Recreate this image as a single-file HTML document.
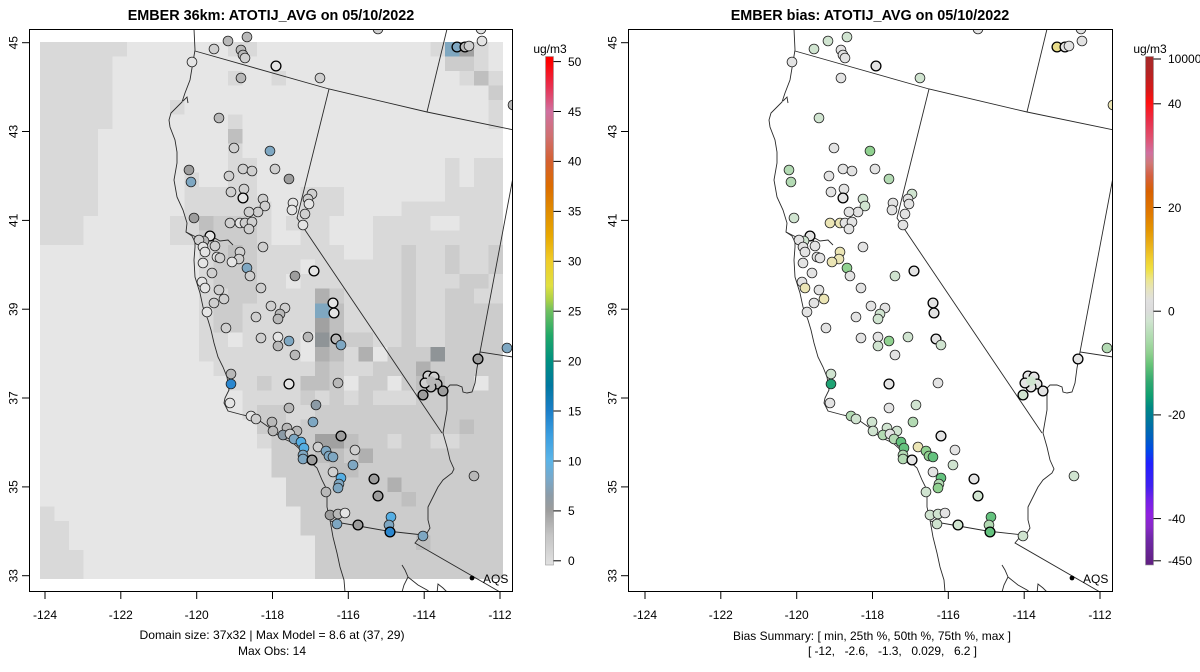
<!DOCTYPE html>
<html><head><meta charset="utf-8">
<style>
html,body{margin:0;padding:0;background:#fff;}
svg{display:block;font-family:"Liberation Sans",Arial,sans-serif;}
.grid rect{shape-rendering:crispEdges}
.gb{fill:#d9d9d9}.gc{fill:#cccccc}.gd{fill:#bfbfbf}.ge{fill:#b0b0b0}.gf{fill:#a1a1a1}.gg{fill:#8f9497}.gB{fill:#7fa7c0}
.ol path{fill:none;stroke:#2a2a2a;stroke-width:0.9}
.dots circle{stroke:#222;stroke-width:0.8}
.dots circle.T{stroke:#000;stroke-width:1.3}
.dW{fill:#e4e4e4}.dL{fill:#cfcfcf}.dM{fill:#b8b8b8}.dD{fill:#9d9d9d}.dG{fill:#8c9ba6}.dS{fill:#7ea7c2}.dU{fill:#55aee3}.dV{fill:#2b87cf}
.rw{fill:#e3e3e3}.rp{fill:#d0e4d0}.rq{fill:#b3dab3}.rr{fill:#90d190}.rs{fill:#64c27e}.rt{fill:#1fa374}.ry{fill:#ebe5b5}.rY{fill:#e8dc8a}
.tk{stroke:#000;stroke-width:1}
</style></head>
<body>
<svg width="1200" height="672" viewBox="0 0 1200 672" xmlns="http://www.w3.org/2000/svg">
<defs>
<clipPath id="clipL" clipPathUnits="userSpaceOnUse"><rect x="29" y="29" width="484" height="563"/></clipPath>
<linearGradient id="cbL" x1="0" y1="0" x2="0" y2="1">
<stop offset="0" stop-color="#ff0000"/>
<stop offset="0.0104" stop-color="#ff0000"/>
<stop offset="0.059" stop-color="#e83050"/>
<stop offset="0.108" stop-color="#d070a0"/>
<stop offset="0.157" stop-color="#d07070"/>
<stop offset="0.206" stop-color="#d46030"/>
<stop offset="0.255" stop-color="#dc6c00"/>
<stop offset="0.304" stop-color="#e08c00"/>
<stop offset="0.353" stop-color="#e8a800"/>
<stop offset="0.402" stop-color="#f0cc28"/>
<stop offset="0.451" stop-color="#e0e040"/>
<stop offset="0.48" stop-color="#a8d048"/>
<stop offset="0.50" stop-color="#70c060"/>
<stop offset="0.549" stop-color="#20a868"/>
<stop offset="0.598" stop-color="#009080"/>
<stop offset="0.647" stop-color="#0078a0"/>
<stop offset="0.696" stop-color="#1a7ec8"/>
<stop offset="0.745" stop-color="#3a9ee0"/>
<stop offset="0.794" stop-color="#5ab4e8"/>
<stop offset="0.833" stop-color="#7aa8c8"/>
<stop offset="0.863" stop-color="#8c9ca8"/>
<stop offset="0.892" stop-color="#9c9c9c"/>
<stop offset="0.941" stop-color="#c4c4c4"/>
<stop offset="0.99" stop-color="#dcdcdc"/>
<stop offset="1" stop-color="#e0e0e0"/>
</linearGradient>
<linearGradient id="cbR" x1="0" y1="0" x2="0" y2="1">
<stop offset="0" stop-color="#a52a2a"/>
<stop offset="0.031" stop-color="#b42424"/>
<stop offset="0.066" stop-color="#d81818"/>
<stop offset="0.09" stop-color="#ff1010"/>
<stop offset="0.128" stop-color="#e8304c"/>
<stop offset="0.16" stop-color="#e05070"/>
<stop offset="0.19" stop-color="#d070a0"/>
<stop offset="0.21" stop-color="#d07878"/>
<stop offset="0.235" stop-color="#d46040"/>
<stop offset="0.265" stop-color="#d86000"/>
<stop offset="0.307" stop-color="#e07800"/>
<stop offset="0.34" stop-color="#e49400"/>
<stop offset="0.37" stop-color="#eab018"/>
<stop offset="0.40" stop-color="#f0d030"/>
<stop offset="0.418" stop-color="#f0e040"/>
<stop offset="0.44" stop-color="#ece690"/>
<stop offset="0.459" stop-color="#e6e4c0"/>
<stop offset="0.48" stop-color="#e0e0e0"/>
<stop offset="0.5" stop-color="#dcdcdc"/>
<stop offset="0.52" stop-color="#d0e4d0"/>
<stop offset="0.56" stop-color="#a8daa8"/>
<stop offset="0.583" stop-color="#90d090"/>
<stop offset="0.605" stop-color="#68c478"/>
<stop offset="0.64" stop-color="#30a870"/>
<stop offset="0.666" stop-color="#10a070"/>
<stop offset="0.69" stop-color="#008884"/>
<stop offset="0.72" stop-color="#0074a0"/>
<stop offset="0.749" stop-color="#0060c0"/>
<stop offset="0.775" stop-color="#0048e8"/>
<stop offset="0.80" stop-color="#2020ff"/>
<stop offset="0.845" stop-color="#4020f0"/>
<stop offset="0.87" stop-color="#7020e8"/>
<stop offset="0.9" stop-color="#9020e0"/>
<stop offset="0.925" stop-color="#8828c8"/>
<stop offset="0.948" stop-color="#7028a8"/>
<stop offset="1" stop-color="#602080"/>
</linearGradient>
<g id="ol" class="ol">
<path d="M194,29 L195,50 L193,62 L190,80 L185,93 L182,102 L177,107 L171,113 L169,120 L170,127 L175,140 L177,152 L177,163 L174,180 L177,197 L183,210 L187,223 L186,232 L192,236 L195,242 L195,247 L194,260 L195,277 L200,293 L203,307 L208,320 L211,330 L214,343 L218,357 L223,367 L227,377 L229,390 L225,398 L224,403 L228,411 L243,415 L252,417 L260,421 L270,428 L280,437 L293,443 L303,452 L308,460 L317,468 L322,480 L327,490 L327,507 L330,520 L333,537 L337,553 L340,567 L344,580 L345,592"/>
<path d="M186,232 L196,237 L205,239 L213,237 L220,241 L228,240 L233,245 M196,237 L197,243 L204,250 L210,252 M213,237 L214,244 L220,247 M183,101 L187,97 L188,103"/>
<path d="M195,51 L329,89 L427,112 L514,130"/>
<path d="M329,89 L297,218 L303,227 L442,433"/>
<path d="M427,112 L447,29"/>
<path d="M514,172 L480,352 L513,357"/>
<path d="M480,352 L477,368 L475,383 L472,392 L467,393 L463,392 L462,387 L457,385 L450,385 L447,388 L447,410 L443,433 L447,447 L450,460 L454,469 L452,473 L443,480 L438,487 L433,497 L428,507 L428,520 L430,528 L427,533 L420,537 L415,543 L500,592"/>
<path d="M330,521 L387,531 L423,535"/>
<path d="M402,565 L405,570 L408,577 L404,585 L402,592 M408,577 L418,585 L427,590 L431,593 M437,593 L438,584 L443,588 L447,592"/>
</g>
</defs>

<!-- Titles -->
<text x="271" y="20" text-anchor="middle" font-size="14.4" font-weight="bold">EMBER 36km: ATOTIJ_AVG on 05/10/2022</text>
<text x="870" y="20" text-anchor="middle" font-size="14.4" font-weight="bold">EMBER bias: ATOTIJ_AVG on 05/10/2022</text>

<!-- LEFT PANEL GRID -->
<g class="grid" transform="translate(40,42) scale(14.469,14.514)">
<rect width="32" height="37" fill="#e6e6e6"/>
<rect class="gb" x="0" y="0" width="6" height="1"/><rect class="gb" x="13" y="0" width="2" height="1"/><rect class="gb" x="27" y="0" width="1" height="1"/><rect class="gB" x="28" y="0" width="1" height="1"/><rect class="gf" x="29" y="0" width="1" height="1"/><rect class="gb" x="30" y="0" width="1" height="1"/>
<rect class="gb" x="0" y="1" width="5" height="1"/><rect class="gc" x="28" y="1" width="2" height="1"/><rect class="gb" x="30" y="1" width="1" height="1"/>
<rect class="gb" x="0" y="2" width="5" height="1"/><rect class="gb" x="13" y="2" width="1" height="1"/><rect class="gb" x="16" y="2" width="1" height="1"/><rect class="gb" x="29" y="2" width="1" height="1"/><rect class="gd" x="30" y="2" width="1" height="1"/><rect class="gb" x="31" y="2" width="1" height="1"/>
<rect class="gb" x="0" y="3" width="5" height="1"/><rect class="gc" x="31" y="3" width="1" height="1"/>
<rect class="gb" x="0" y="4" width="5" height="1"/><rect class="gb" x="9" y="4" width="1" height="1"/><rect class="gb" x="31" y="4" width="1" height="1"/>
<rect class="gb" x="0" y="5" width="5" height="1"/><rect class="gb" x="13" y="5" width="1" height="1"/><rect class="gb" x="31" y="5" width="1" height="1"/>
<rect class="gb" x="0" y="6" width="4" height="1"/><rect class="gd" x="13" y="6" width="1" height="1"/>
<rect class="gb" x="0" y="7" width="4" height="1"/><rect class="gb" x="13" y="7" width="1" height="1"/>
<rect class="gb" x="0" y="8" width="4" height="1"/><rect class="gb" x="13" y="8" width="2" height="1"/><rect class="gb" x="28" y="8" width="1" height="1"/><rect class="gb" x="30" y="8" width="2" height="1"/>
<rect class="gb" x="0" y="9" width="4" height="1"/><rect class="gb" x="10" y="9" width="1" height="1"/><rect class="gb" x="13" y="9" width="2" height="1"/><rect class="gb" x="28" y="9" width="1" height="1"/><rect class="gb" x="30" y="9" width="2" height="1"/>
<rect class="gb" x="0" y="10" width="4" height="1"/><rect class="gb" x="10" y="10" width="5" height="1"/><rect class="gb" x="18" y="10" width="3" height="1"/><rect class="gb" x="28" y="10" width="4" height="1"/>
<rect class="gb" x="0" y="11" width="4" height="1"/><rect class="gb" x="10" y="11" width="6" height="1"/><rect class="gb" x="18" y="11" width="3" height="1"/><rect class="gb" x="25" y="11" width="7" height="1"/>
<rect class="gb" x="0" y="12" width="3" height="1"/><rect class="gb" x="9" y="12" width="2" height="1"/><rect class="gd" x="11" y="12" width="1" height="1"/><rect class="gc" x="12" y="12" width="3" height="1"/><rect class="gb" x="15" y="12" width="1" height="1"/><rect class="gb" x="17" y="12" width="3" height="1"/><rect class="gb" x="23" y="12" width="4" height="1"/><rect class="gb" x="29" y="12" width="3" height="1"/>
<rect class="gb" x="0" y="13" width="3" height="1"/><rect class="gb" x="9" y="13" width="2" height="1"/><rect class="gc" x="11" y="13" width="4" height="1"/><rect class="gb" x="15" y="13" width="1" height="1"/><rect class="gb" x="18" y="13" width="2" height="1"/><rect class="gb" x="23" y="13" width="9" height="1"/>
<rect class="gb" x="11" y="14" width="1" height="1"/><rect class="gc" x="12" y="14" width="1" height="1"/><rect class="gd" x="13" y="14" width="1" height="1"/><rect class="gc" x="14" y="14" width="1" height="1"/><rect class="gb" x="15" y="14" width="6" height="1"/><rect class="gb" x="23" y="14" width="2" height="1"/><rect class="gc" x="25" y="14" width="1" height="1"/><rect class="gb" x="26" y="14" width="2" height="1"/><rect class="gc" x="28" y="14" width="1" height="1"/><rect class="gb" x="29" y="14" width="2" height="1"/><rect class="gc" x="31" y="14" width="1" height="1"/>
<rect class="gb" x="11" y="15" width="1" height="1"/><rect class="gc" x="12" y="15" width="3" height="1"/><rect class="gb" x="15" y="15" width="3" height="1"/><rect class="gb" x="19" y="15" width="6" height="1"/><rect class="gc" x="25" y="15" width="1" height="1"/><rect class="gb" x="26" y="15" width="2" height="1"/><rect class="gc" x="28" y="15" width="1" height="1"/><rect class="gb" x="29" y="15" width="2" height="1"/><rect class="gc" x="31" y="15" width="1" height="1"/>
<rect class="gb" x="11" y="16" width="1" height="1"/><rect class="gc" x="12" y="16" width="3" height="1"/><rect class="gb" x="15" y="16" width="2" height="1"/><rect class="gb" x="18" y="16" width="7" height="1"/><rect class="gc" x="25" y="16" width="1" height="1"/><rect class="gb" x="26" y="16" width="3" height="1"/><rect class="gc" x="29" y="16" width="2" height="1"/><rect class="gb" x="31" y="16" width="1" height="1"/>
<rect class="gb" x="11" y="17" width="2" height="1"/><rect class="gc" x="13" y="17" width="2" height="1"/><rect class="gb" x="15" y="17" width="4" height="1"/><rect class="ge" x="19" y="17" width="1" height="1"/><rect class="gc" x="20" y="17" width="1" height="1"/><rect class="gb" x="21" y="17" width="4" height="1"/><rect class="gc" x="25" y="17" width="1" height="1"/><rect class="gb" x="26" y="17" width="2" height="1"/><rect class="gc" x="28" y="17" width="2" height="1"/><rect class="gb" x="30" y="17" width="2" height="1"/>
<rect class="gb" x="11" y="18" width="1" height="1"/><rect class="gc" x="12" y="18" width="2" height="1"/><rect class="gb" x="14" y="18" width="5" height="1"/><rect class="gB" x="19" y="18" width="1" height="1"/><rect class="gd" x="20" y="18" width="1" height="1"/><rect class="gb" x="21" y="18" width="4" height="1"/><rect class="gc" x="25" y="18" width="1" height="1"/><rect class="gb" x="26" y="18" width="2" height="1"/><rect class="gc" x="28" y="18" width="4" height="1"/>
<rect class="gb" x="11" y="19" width="1" height="1"/><rect class="gc" x="12" y="19" width="2" height="1"/><rect class="gb" x="14" y="19" width="5" height="1"/><rect class="gf" x="19" y="19" width="1" height="1"/><rect class="gd" x="20" y="19" width="1" height="1"/><rect class="gb" x="21" y="19" width="4" height="1"/><rect class="gc" x="25" y="19" width="1" height="1"/><rect class="gb" x="26" y="19" width="2" height="1"/><rect class="gc" x="28" y="19" width="4" height="1"/>
<rect class="gb" x="11" y="20" width="2" height="1"/><rect class="gb" x="14" y="20" width="4" height="1"/><rect class="gg" x="19" y="20" width="1" height="1"/><rect class="gd" x="20" y="20" width="1" height="1"/><rect class="gc" x="21" y="20" width="2" height="1"/><rect class="gb" x="23" y="20" width="2" height="1"/><rect class="gc" x="25" y="20" width="1" height="1"/><rect class="gb" x="26" y="20" width="2" height="1"/><rect class="gc" x="28" y="20" width="4" height="1"/>
<rect class="gb" x="11" y="21" width="7" height="1"/><rect class="ge" x="19" y="21" width="1" height="1"/><rect class="gd" x="20" y="21" width="1" height="1"/><rect class="gb" x="21" y="21" width="1" height="1"/><rect class="ge" x="22" y="21" width="1" height="1"/><rect class="gc" x="24" y="21" width="3" height="1"/><rect class="gg" x="27" y="21" width="1" height="1"/><rect class="gc" x="28" y="21" width="4" height="1"/>
<rect class="gb" x="12" y="22" width="7" height="1"/><rect class="gd" x="19" y="22" width="1" height="1"/><rect class="gc" x="20" y="22" width="1" height="1"/><rect class="gb" x="21" y="22" width="2" height="1"/><rect class="gc" x="23" y="22" width="3" height="1"/><rect class="ge" x="26" y="22" width="1" height="1"/><rect class="gc" x="27" y="22" width="5" height="1"/>
<rect class="gb" x="13" y="23" width="2" height="1"/><rect class="gc" x="15" y="23" width="1" height="1"/><rect class="gb" x="16" y="23" width="2" height="1"/><rect class="gd" x="18" y="23" width="2" height="1"/><rect class="gc" x="20" y="23" width="1" height="1"/><rect class="gc" x="22" y="23" width="2" height="1"/><rect class="gc" x="25" y="23" width="1" height="1"/><rect class="gd" x="26" y="23" width="2" height="1"/><rect class="gc" x="28" y="23" width="2" height="1"/><rect class="gc" x="31" y="23" width="1" height="1"/>
<rect class="gb" x="14" y="24" width="4" height="1"/><rect class="gc" x="18" y="24" width="1" height="1"/><rect class="gb" x="19" y="24" width="1" height="1"/><rect class="gc" x="20" y="24" width="1" height="1"/><rect class="gb" x="21" y="24" width="1" height="1"/><rect class="gc" x="22" y="24" width="1" height="1"/><rect class="gb" x="23" y="24" width="3" height="1"/><rect class="gc" x="26" y="24" width="6" height="1"/>
<rect class="gb" x="14" y="25" width="1" height="1"/><rect class="gc" x="15" y="25" width="2" height="1"/><rect class="gb" x="17" y="25" width="2" height="1"/><rect class="gc" x="19" y="25" width="13" height="1"/>
<rect class="gc" x="15" y="26" width="2" height="1"/><rect class="gb" x="17" y="26" width="1" height="1"/><rect class="gc" x="18" y="26" width="11" height="1"/><rect class="gd" x="29" y="26" width="1" height="1"/><rect class="gc" x="30" y="26" width="2" height="1"/>
<rect class="gb" x="15" y="27" width="1" height="1"/><rect class="gc" x="16" y="27" width="3" height="1"/><rect class="gf" x="19" y="27" width="2" height="1"/><rect class="gd" x="21" y="27" width="1" height="1"/><rect class="gc" x="22" y="27" width="2" height="1"/><rect class="gb" x="24" y="27" width="1" height="1"/><rect class="gc" x="25" y="27" width="2" height="1"/><rect class="gb" x="27" y="27" width="2" height="1"/><rect class="gc" x="29" y="27" width="3" height="1"/>
<rect class="gc" x="16" y="28" width="3" height="1"/><rect class="gd" x="19" y="28" width="2" height="1"/><rect class="gc" x="21" y="28" width="1" height="1"/><rect class="ge" x="22" y="28" width="1" height="1"/><rect class="gc" x="23" y="28" width="9" height="1"/>
<rect class="gc" x="16" y="29" width="4" height="1"/><rect class="gd" x="20" y="29" width="2" height="1"/><rect class="gc" x="22" y="29" width="10" height="1"/>
<rect class="gc" x="17" y="30" width="7" height="1"/><rect class="ge" x="24" y="30" width="1" height="1"/><rect class="gc" x="25" y="30" width="7" height="1"/>
<rect class="gc" x="17" y="31" width="8" height="1"/><rect class="gd" x="25" y="31" width="1" height="1"/><rect class="gc" x="26" y="31" width="6" height="1"/>
<rect class="gb" x="0" y="32" width="1" height="1"/><rect class="gc" x="18" y="32" width="14" height="1"/>
<rect class="gb" x="0" y="33" width="2" height="1"/><rect class="gc" x="18" y="33" width="14" height="1"/>
<rect class="gb" x="0" y="34" width="2" height="1"/><rect class="gc" x="19" y="34" width="7" height="1"/><rect class="gd" x="26" y="34" width="1" height="1"/><rect class="gc" x="27" y="34" width="5" height="1"/>
<rect class="gb" x="0" y="35" width="3" height="1"/><rect class="gc" x="19" y="35" width="13" height="1"/>
<rect class="gb" x="0" y="36" width="3" height="1"/><rect class="gc" x="19" y="36" width="13" height="1"/>
</g>

<!-- LEFT map outlines + dots -->
<g clip-path="url(#clipL)">
<use href="#ol"/>
<g class="dots">
<circle cx="378" cy="29" r="4.9" class="dL"/>
<circle cx="228" cy="41" r="4.9" class="dM"/>
<circle cx="247" cy="37" r="4.9" class="dM"/>
<circle cx="214" cy="49" r="4.9" class="dL"/>
<circle cx="241" cy="50" r="4.9" class="dM"/>
<circle cx="243" cy="55" r="4.9" class="dM"/>
<circle cx="245" cy="58" r="4.9" class="dL"/>
<circle cx="481" cy="29" r="4.9" class="dW"/>
<circle cx="457" cy="47" r="4.9" class="dS T"/>
<circle cx="465" cy="47" r="4.9" class="dM T"/>
<circle cx="469" cy="46" r="4.9" class="dL"/>
<circle cx="482" cy="41" r="4.9" class="dW"/>
<circle cx="192" cy="62" r="4.9" class="dW"/>
<circle cx="276" cy="66" r="4.9" class="dW T"/>
<circle cx="241" cy="78" r="4.9" class="dM"/>
<circle cx="320" cy="78" r="4.9" class="dL"/>
<circle cx="513" cy="105" r="4.9" class="dM"/>
<circle cx="219" cy="118" r="4.9" class="dM"/>
<circle cx="234" cy="148" r="4.9" class="dL"/>
<circle cx="270" cy="151" r="4.9" class="dS"/>
<circle cx="189" cy="170" r="4.9" class="dD"/>
<circle cx="191" cy="182" r="4.9" class="dS"/>
<circle cx="229" cy="176" r="4.9" class="dL"/>
<circle cx="243" cy="169" r="4.9" class="dL"/>
<circle cx="252" cy="171" r="4.9" class="dL"/>
<circle cx="275" cy="169" r="4.9" class="dL"/>
<circle cx="289" cy="179" r="4.9" class="dD"/>
<circle cx="231" cy="192" r="4.9" class="dL"/>
<circle cx="244" cy="189" r="4.9" class="dL"/>
<circle cx="243" cy="198" r="4.9" class="dW T"/>
<circle cx="263" cy="199" r="4.9" class="dL"/>
<circle cx="265" cy="206" r="4.9" class="dL"/>
<circle cx="312" cy="194" r="4.9" class="dL"/>
<circle cx="308" cy="199" r="4.9" class="dL"/>
<circle cx="309" cy="204" r="4.9" class="dW"/>
<circle cx="293" cy="203" r="4.9" class="dW"/>
<circle cx="292" cy="210" r="4.9" class="dW"/>
<circle cx="305" cy="214" r="4.9" class="dL"/>
<circle cx="303" cy="225" r="4.9" class="dW"/>
<circle cx="194" cy="218" r="4.9" class="dD"/>
<circle cx="258" cy="212" r="4.9" class="dL"/>
<circle cx="249" cy="212" r="4.9" class="dL"/>
<circle cx="230" cy="223" r="4.9" class="dL"/>
<circle cx="240" cy="223" r="4.9" class="dW"/>
<circle cx="245" cy="223" r="4.9" class="dL"/>
<circle cx="252" cy="222" r="4.9" class="dL"/>
<circle cx="249" cy="229" r="4.9" class="dL"/>
<circle cx="210" cy="236" r="4.9" class="dW T"/>
<circle cx="204" cy="241" r="4.9" class="dM"/>
<circle cx="199" cy="240" r="4.9" class="dL"/>
<circle cx="203" cy="247" r="4.9" class="dW"/>
<circle cx="215" cy="246" r="4.9" class="dL"/>
<circle cx="205" cy="252" r="4.9" class="dW"/>
<circle cx="217" cy="257" r="4.9" class="dW"/>
<circle cx="220" cy="258" r="4.9" class="dL"/>
<circle cx="203" cy="263" r="4.9" class="dW"/>
<circle cx="212" cy="273" r="4.9" class="dL"/>
<circle cx="240" cy="252" r="4.9" class="dL"/>
<circle cx="239" cy="259" r="4.9" class="dL"/>
<circle cx="232" cy="262" r="4.9" class="dW"/>
<circle cx="263" cy="247" r="4.9" class="dL"/>
<circle cx="247" cy="268" r="4.9" class="dS"/>
<circle cx="250" cy="276" r="4.9" class="dL"/>
<circle cx="314" cy="271" r="4.9" class="dW T"/>
<circle cx="295" cy="276" r="4.9" class="dD"/>
<circle cx="202" cy="282" r="4.9" class="dW"/>
<circle cx="205" cy="288" r="4.9" class="dW"/>
<circle cx="219" cy="290" r="4.9" class="dL"/>
<circle cx="224" cy="299" r="4.9" class="dL"/>
<circle cx="214" cy="303" r="4.9" class="dL"/>
<circle cx="207" cy="312" r="4.9" class="dW"/>
<circle cx="261" cy="288" r="4.9" class="dL"/>
<circle cx="271" cy="306" r="4.9" class="dL"/>
<circle cx="285" cy="308" r="4.9" class="dL"/>
<circle cx="280" cy="314" r="4.9" class="dM"/>
<circle cx="278" cy="319" r="4.9" class="dM"/>
<circle cx="256" cy="317" r="4.9" class="dL"/>
<circle cx="333" cy="303" r="4.9" class="dW T"/>
<circle cx="334" cy="313" r="4.9" class="dW T"/>
<circle cx="226" cy="328" r="4.9" class="dL"/>
<circle cx="261" cy="338" r="4.9" class="dL"/>
<circle cx="278" cy="337" r="4.9" class="dW"/>
<circle cx="278" cy="346" r="4.9" class="dM"/>
<circle cx="289" cy="341" r="4.9" class="dS"/>
<circle cx="308" cy="337" r="4.9" class="dM"/>
<circle cx="336" cy="339" r="4.9" class="dM T"/>
<circle cx="341" cy="345" r="4.9" class="dS"/>
<circle cx="295" cy="355" r="4.9" class="dM"/>
<circle cx="231" cy="374" r="4.9" class="dM"/>
<circle cx="231" cy="384" r="4.9" class="dV"/>
<circle cx="289" cy="384" r="4.9" class="dW T"/>
<circle cx="338" cy="383" r="4.9" class="dM"/>
<circle cx="230" cy="403" r="4.9" class="dW"/>
<circle cx="428" cy="376" r="4.9" class="dL T"/>
<circle cx="434" cy="377" r="4.9" class="dL T"/>
<circle cx="437" cy="384" r="4.9" class="dM T"/>
<circle cx="431" cy="387" r="4.9" class="dM T"/>
<circle cx="425" cy="383" r="4.9" class="dL T"/>
<circle cx="431" cy="381" r="4.9" class="dM" style="stroke:none"/>
<circle cx="423" cy="395" r="4.9" class="dD T"/>
<circle cx="443" cy="391" r="4.9" class="dD T"/>
<circle cx="478" cy="359" r="4.9" class="dD T"/>
<circle cx="507" cy="348" r="4.9" class="dS"/>
<circle cx="289" cy="408" r="4.9" class="dM"/>
<circle cx="316" cy="405" r="4.9" class="dG"/>
<circle cx="251" cy="416" r="4.9" class="dW"/>
<circle cx="256" cy="419" r="4.9" class="dL"/>
<circle cx="272" cy="422" r="4.9" class="dM"/>
<circle cx="273" cy="431" r="4.9" class="dM"/>
<circle cx="287" cy="428" r="4.9" class="dM"/>
<circle cx="283" cy="435" r="4.9" class="dG"/>
<circle cx="297" cy="431" r="4.9" class="dM"/>
<circle cx="290" cy="434" r="4.9" class="dL"/>
<circle cx="294" cy="439" r="4.9" class="dS"/>
<circle cx="301" cy="442" r="4.9" class="dU"/>
<circle cx="304" cy="448" r="4.9" class="dU"/>
<circle cx="313" cy="422" r="4.9" class="dS"/>
<circle cx="341" cy="436" r="4.9" class="dD T"/>
<circle cx="318" cy="447" r="4.9" class="dL"/>
<circle cx="326" cy="451" r="4.9" class="dS"/>
<circle cx="329" cy="456" r="4.9" class="dS"/>
<circle cx="333" cy="457" r="4.9" class="dS"/>
<circle cx="303" cy="455" r="4.9" class="dS"/>
<circle cx="303" cy="459" r="4.9" class="dS"/>
<circle cx="312" cy="460" r="4.9" class="dD T"/>
<circle cx="355" cy="450" r="4.9" class="dL"/>
<circle cx="353" cy="465" r="4.9" class="dS"/>
<circle cx="333" cy="472" r="4.9" class="dL"/>
<circle cx="341" cy="478" r="4.9" class="dU"/>
<circle cx="339" cy="484" r="4.9" class="dS"/>
<circle cx="338" cy="488" r="4.9" class="dS"/>
<circle cx="374" cy="479" r="4.9" class="dD T"/>
<circle cx="378" cy="496" r="4.9" class="dD T"/>
<circle cx="326" cy="492" r="4.9" class="dM"/>
<circle cx="474" cy="476" r="4.9" class="dM"/>
<circle cx="330" cy="515" r="4.9" class="dD"/>
<circle cx="338" cy="514" r="4.9" class="dM"/>
<circle cx="345" cy="513" r="4.9" class="dW"/>
<circle cx="337" cy="524" r="4.9" class="dS"/>
<circle cx="358" cy="525" r="4.9" class="dD T"/>
<circle cx="391" cy="517" r="4.9" class="dU"/>
<circle cx="389" cy="525" r="4.9" class="dS"/>
<circle cx="390" cy="532" r="4.9" class="dV T"/>
<circle cx="423" cy="536" r="4.9" class="dS"/>
</g>
<circle cx="472" cy="578" r="2.4" fill="#000"/>
<text x="483" y="583" font-size="12">AQS</text>
</g>

<!-- RIGHT map outlines + dots -->
<g transform="translate(600,0)">
<g clip-path="url(#clipL)">
<use href="#ol"/>
<g class="dots">
<circle cx="378" cy="29" r="4.9" class="rw"/>
<circle cx="228" cy="41" r="4.9" class="rp"/>
<circle cx="247" cy="37" r="4.9" class="rp"/>
<circle cx="214" cy="49" r="4.9" class="rp"/>
<circle cx="241" cy="50" r="4.9" class="rw"/>
<circle cx="243" cy="55" r="4.9" class="rw"/>
<circle cx="245" cy="58" r="4.9" class="rw"/>
<circle cx="481" cy="29" r="4.9" class="rw"/>
<circle cx="457" cy="47" r="4.9" class="rY T"/>
<circle cx="465" cy="47" r="4.9" class="rw T"/>
<circle cx="469" cy="46" r="4.9" class="rw"/>
<circle cx="482" cy="41" r="4.9" class="rw"/>
<circle cx="192" cy="62" r="4.9" class="rw"/>
<circle cx="276" cy="66" r="4.9" class="rw T"/>
<circle cx="241" cy="78" r="4.9" class="rw"/>
<circle cx="320" cy="78" r="4.9" class="rp"/>
<circle cx="513" cy="105" r="4.9" class="ry"/>
<circle cx="219" cy="118" r="4.9" class="rp"/>
<circle cx="234" cy="148" r="4.9" class="rw"/>
<circle cx="270" cy="151" r="4.9" class="rr"/>
<circle cx="189" cy="170" r="4.9" class="rq"/>
<circle cx="191" cy="182" r="4.9" class="rq"/>
<circle cx="229" cy="176" r="4.9" class="rw"/>
<circle cx="243" cy="169" r="4.9" class="rw"/>
<circle cx="252" cy="171" r="4.9" class="rw"/>
<circle cx="275" cy="169" r="4.9" class="rw"/>
<circle cx="289" cy="179" r="4.9" class="rq"/>
<circle cx="231" cy="192" r="4.9" class="rw"/>
<circle cx="244" cy="189" r="4.9" class="rw"/>
<circle cx="243" cy="198" r="4.9" class="rw T"/>
<circle cx="263" cy="199" r="4.9" class="rp"/>
<circle cx="265" cy="206" r="4.9" class="rp"/>
<circle cx="312" cy="194" r="4.9" class="rp"/>
<circle cx="308" cy="199" r="4.9" class="rw"/>
<circle cx="309" cy="204" r="4.9" class="rw"/>
<circle cx="293" cy="203" r="4.9" class="rw"/>
<circle cx="292" cy="210" r="4.9" class="rw"/>
<circle cx="305" cy="214" r="4.9" class="rw"/>
<circle cx="303" cy="225" r="4.9" class="rw"/>
<circle cx="194" cy="218" r="4.9" class="rp"/>
<circle cx="258" cy="212" r="4.9" class="rw"/>
<circle cx="249" cy="212" r="4.9" class="rw"/>
<circle cx="230" cy="223" r="4.9" class="ry"/>
<circle cx="240" cy="223" r="4.9" class="ry"/>
<circle cx="245" cy="223" r="4.9" class="rw"/>
<circle cx="252" cy="222" r="4.9" class="rw"/>
<circle cx="249" cy="229" r="4.9" class="rw"/>
<circle cx="210" cy="236" r="4.9" class="rw T"/>
<circle cx="204" cy="241" r="4.9" class="rp"/>
<circle cx="199" cy="240" r="4.9" class="rw"/>
<circle cx="203" cy="247" r="4.9" class="rw"/>
<circle cx="215" cy="246" r="4.9" class="rw"/>
<circle cx="205" cy="252" r="4.9" class="rw"/>
<circle cx="217" cy="257" r="4.9" class="rw"/>
<circle cx="220" cy="258" r="4.9" class="rw"/>
<circle cx="203" cy="263" r="4.9" class="rw"/>
<circle cx="212" cy="273" r="4.9" class="rw"/>
<circle cx="240" cy="252" r="4.9" class="ry"/>
<circle cx="239" cy="259" r="4.9" class="ry"/>
<circle cx="232" cy="262" r="4.9" class="ry"/>
<circle cx="263" cy="247" r="4.9" class="rw"/>
<circle cx="247" cy="268" r="4.9" class="rr"/>
<circle cx="250" cy="276" r="4.9" class="rw"/>
<circle cx="314" cy="271" r="4.9" class="rw T"/>
<circle cx="295" cy="276" r="4.9" class="rp"/>
<circle cx="202" cy="282" r="4.9" class="rw"/>
<circle cx="205" cy="288" r="4.9" class="ry"/>
<circle cx="219" cy="290" r="4.9" class="rw"/>
<circle cx="224" cy="299" r="4.9" class="ry"/>
<circle cx="214" cy="303" r="4.9" class="rw"/>
<circle cx="207" cy="312" r="4.9" class="rw"/>
<circle cx="261" cy="288" r="4.9" class="rw"/>
<circle cx="271" cy="306" r="4.9" class="rw"/>
<circle cx="285" cy="308" r="4.9" class="rw"/>
<circle cx="280" cy="314" r="4.9" class="rp"/>
<circle cx="278" cy="319" r="4.9" class="rp"/>
<circle cx="256" cy="317" r="4.9" class="rw"/>
<circle cx="333" cy="303" r="4.9" class="rw T"/>
<circle cx="334" cy="313" r="4.9" class="rw T"/>
<circle cx="226" cy="328" r="4.9" class="rw"/>
<circle cx="261" cy="338" r="4.9" class="rw"/>
<circle cx="278" cy="337" r="4.9" class="rw"/>
<circle cx="278" cy="346" r="4.9" class="rp"/>
<circle cx="289" cy="341" r="4.9" class="rr"/>
<circle cx="308" cy="337" r="4.9" class="rp"/>
<circle cx="336" cy="339" r="4.9" class="rw T"/>
<circle cx="341" cy="345" r="4.9" class="rp"/>
<circle cx="295" cy="355" r="4.9" class="rw"/>
<circle cx="231" cy="374" r="4.9" class="rp"/>
<circle cx="231" cy="384" r="4.9" class="rt"/>
<circle cx="289" cy="384" r="4.9" class="rw T"/>
<circle cx="338" cy="383" r="4.9" class="rw"/>
<circle cx="230" cy="403" r="4.9" class="rw"/>
<circle cx="428" cy="376" r="4.9" class="rw T"/>
<circle cx="434" cy="377" r="4.9" class="rw T"/>
<circle cx="437" cy="384" r="4.9" class="rw T"/>
<circle cx="431" cy="387" r="4.9" class="rw T"/>
<circle cx="425" cy="383" r="4.9" class="rw T"/>
<circle cx="431" cy="381" r="4.9" class="rp" style="stroke:none"/>
<circle cx="423" cy="395" r="4.9" class="rp T"/>
<circle cx="443" cy="391" r="4.9" class="rw T"/>
<circle cx="478" cy="359" r="4.9" class="rw T"/>
<circle cx="507" cy="348" r="4.9" class="rq"/>
<circle cx="289" cy="408" r="4.9" class="rw"/>
<circle cx="316" cy="405" r="4.9" class="rp"/>
<circle cx="251" cy="416" r="4.9" class="rq"/>
<circle cx="256" cy="419" r="4.9" class="rp"/>
<circle cx="272" cy="422" r="4.9" class="rp"/>
<circle cx="273" cy="431" r="4.9" class="rp"/>
<circle cx="287" cy="428" r="4.9" class="rp"/>
<circle cx="283" cy="435" r="4.9" class="rq"/>
<circle cx="297" cy="431" r="4.9" class="rp"/>
<circle cx="290" cy="434" r="4.9" class="rw"/>
<circle cx="294" cy="439" r="4.9" class="rq"/>
<circle cx="301" cy="442" r="4.9" class="rs"/>
<circle cx="304" cy="448" r="4.9" class="rs"/>
<circle cx="313" cy="422" r="4.9" class="rq"/>
<circle cx="341" cy="436" r="4.9" class="rw T"/>
<circle cx="318" cy="447" r="4.9" class="ry"/>
<circle cx="326" cy="451" r="4.9" class="rr"/>
<circle cx="329" cy="456" r="4.9" class="rr"/>
<circle cx="333" cy="457" r="4.9" class="rs"/>
<circle cx="303" cy="455" r="4.9" class="rq"/>
<circle cx="303" cy="459" r="4.9" class="rq"/>
<circle cx="312" cy="460" r="4.9" class="rw T"/>
<circle cx="355" cy="450" r="4.9" class="rw"/>
<circle cx="353" cy="465" r="4.9" class="rp"/>
<circle cx="333" cy="472" r="4.9" class="rw"/>
<circle cx="341" cy="478" r="4.9" class="rs"/>
<circle cx="339" cy="484" r="4.9" class="rq"/>
<circle cx="338" cy="488" r="4.9" class="rr"/>
<circle cx="374" cy="479" r="4.9" class="rw T"/>
<circle cx="378" cy="496" r="4.9" class="rp T"/>
<circle cx="326" cy="492" r="4.9" class="rp"/>
<circle cx="474" cy="476" r="4.9" class="rp"/>
<circle cx="330" cy="515" r="4.9" class="rp"/>
<circle cx="338" cy="514" r="4.9" class="rp"/>
<circle cx="345" cy="513" r="4.9" class="rw"/>
<circle cx="337" cy="524" r="4.9" class="rp"/>
<circle cx="358" cy="525" r="4.9" class="rp T"/>
<circle cx="391" cy="517" r="4.9" class="rs"/>
<circle cx="389" cy="525" r="4.9" class="rq"/>
<circle cx="390" cy="532" r="4.9" class="rs T"/>
<circle cx="423" cy="536" r="4.9" class="rp"/>
</g>
<circle cx="472" cy="578" r="2.4" fill="#000"/>
<text x="483" y="583" font-size="12">AQS</text>
</g>
</g>

<!-- Boxes -->
<rect x="29.5" y="29.5" width="483" height="562" fill="none" stroke="#000" stroke-width="1"/>
<rect x="628.5" y="29.5" width="484" height="562" fill="none" stroke="#000" stroke-width="1"/>

<!-- Axes ticks -->
<g class="tk">
<line x1="45" y1="592" x2="45" y2="599"/><line x1="120.8" y1="592" x2="120.8" y2="599"/><line x1="196.7" y1="592" x2="196.7" y2="599"/><line x1="272.5" y1="592" x2="272.5" y2="599"/><line x1="348.3" y1="592" x2="348.3" y2="599"/><line x1="424.2" y1="592" x2="424.2" y2="599"/><line x1="500" y1="592" x2="500" y2="599"/>
<line x1="22" y1="42.7" x2="29" y2="42.7"/><line x1="22" y1="131.5" x2="29" y2="131.5"/><line x1="22" y1="220.4" x2="29" y2="220.4"/><line x1="22" y1="309.2" x2="29" y2="309.2"/><line x1="22" y1="398" x2="29" y2="398"/><line x1="22" y1="486.9" x2="29" y2="486.9"/><line x1="22" y1="575.7" x2="29" y2="575.7"/>
<line x1="645" y1="592" x2="645" y2="599"/><line x1="720.8" y1="592" x2="720.8" y2="599"/><line x1="796.7" y1="592" x2="796.7" y2="599"/><line x1="872.5" y1="592" x2="872.5" y2="599"/><line x1="948.3" y1="592" x2="948.3" y2="599"/><line x1="1024.2" y1="592" x2="1024.2" y2="599"/><line x1="1100" y1="592" x2="1100" y2="599"/>
<line x1="621" y1="42.7" x2="628" y2="42.7"/><line x1="621" y1="131.5" x2="628" y2="131.5"/><line x1="621" y1="220.4" x2="628" y2="220.4"/><line x1="621" y1="309.2" x2="628" y2="309.2"/><line x1="621" y1="398" x2="628" y2="398"/><line x1="621" y1="486.9" x2="628" y2="486.9"/><line x1="621" y1="575.7" x2="628" y2="575.7"/>
</g>
<g font-size="12" text-anchor="middle">
<text x="45" y="619">-124</text><text x="120.8" y="619">-122</text><text x="196.7" y="619">-120</text><text x="272.5" y="619">-118</text><text x="348.3" y="619">-116</text><text x="424.2" y="619">-114</text><text x="500" y="619">-112</text>
<text x="645" y="619">-124</text><text x="720.8" y="619">-122</text><text x="796.7" y="619">-120</text><text x="872.5" y="619">-118</text><text x="948.3" y="619">-116</text><text x="1024.2" y="619">-114</text><text x="1100" y="619">-112</text>
<text transform="translate(17.5,42.7) rotate(-90)">45</text>
<text transform="translate(17.5,131.5) rotate(-90)">43</text>
<text transform="translate(17.5,220.4) rotate(-90)">41</text>
<text transform="translate(17.5,309.2) rotate(-90)">39</text>
<text transform="translate(17.5,398) rotate(-90)">37</text>
<text transform="translate(17.5,486.9) rotate(-90)">35</text>
<text transform="translate(17.5,575.7) rotate(-90)">33</text>
<text transform="translate(616.5,42.7) rotate(-90)">45</text>
<text transform="translate(616.5,131.5) rotate(-90)">43</text>
<text transform="translate(616.5,220.4) rotate(-90)">41</text>
<text transform="translate(616.5,309.2) rotate(-90)">39</text>
<text transform="translate(616.5,398) rotate(-90)">37</text>
<text transform="translate(616.5,486.9) rotate(-90)">35</text>
<text transform="translate(616.5,575.7) rotate(-90)">33</text>
<text x="272" y="639" textLength="265" lengthAdjust="spacingAndGlyphs">Domain size: 37x32 | Max Model = 8.6 at (37, 29)</text>
<text x="272" y="655">Max Obs: 14</text>
<text x="872" y="640" textLength="278" lengthAdjust="spacingAndGlyphs">Bias Summary: [ min, 25th %, 50th %, 75th %, max ]</text>
</g>
<text x="808" y="655" font-size="12" style="white-space:pre" textLength="169" lengthAdjust="spacing">[ -12,   -2.6,   -1.3,   0.029,   6.2 ]</text>

<!-- Left colorbar -->
<text x="550" y="53" font-size="12" text-anchor="middle">ug/m3</text>
<rect x="545.5" y="56.5" width="8" height="508.5" fill="url(#cbL)" stroke="#999" stroke-width="0.6"/>
<g class="tk">
<line x1="553.5" y1="61.6" x2="561" y2="61.6"/><line x1="553.5" y1="111.5" x2="561" y2="111.5"/><line x1="553.5" y1="161.4" x2="561" y2="161.4"/><line x1="553.5" y1="211.4" x2="561" y2="211.4"/><line x1="553.5" y1="261.3" x2="561" y2="261.3"/><line x1="553.5" y1="311.2" x2="561" y2="311.2"/><line x1="553.5" y1="361.1" x2="561" y2="361.1"/><line x1="553.5" y1="411" x2="561" y2="411"/><line x1="553.5" y1="461" x2="561" y2="461"/><line x1="553.5" y1="510.9" x2="561" y2="510.9"/><line x1="553.5" y1="560.8" x2="561" y2="560.8"/>
</g>
<g font-size="12">
<text x="568" y="65.9">50</text><text x="568" y="115.8">45</text><text x="568" y="165.7">40</text><text x="568" y="215.7">35</text><text x="568" y="265.6">30</text><text x="568" y="315.5">25</text><text x="568" y="365.4">20</text><text x="568" y="415.3">15</text><text x="568" y="465.3">10</text><text x="568" y="515.2">5</text><text x="568" y="565.1">0</text>
</g>

<!-- Right colorbar -->
<text x="1150" y="53" font-size="12" text-anchor="middle">ug/m3</text>
<rect x="1145.5" y="56.5" width="8" height="508.5" fill="url(#cbR)" stroke="#999" stroke-width="0.6"/>
<g class="tk">
<line x1="1153.5" y1="59" x2="1161" y2="59"/><line x1="1153.5" y1="103.8" x2="1161" y2="103.8"/><line x1="1153.5" y1="207.5" x2="1161" y2="207.5"/><line x1="1153.5" y1="311.2" x2="1161" y2="311.2"/><line x1="1153.5" y1="414.9" x2="1161" y2="414.9"/><line x1="1153.5" y1="518.6" x2="1161" y2="518.6"/><line x1="1153.5" y1="560.8" x2="1161" y2="560.8"/>
</g>
<g font-size="12">
<text x="1168" y="63">10000</text><text x="1168" y="108.1">40</text><text x="1168" y="211.8">20</text><text x="1168" y="315.5">0</text><text x="1168" y="419.2">-20</text><text x="1168" y="522.9">-40</text><text x="1168" y="565.1">-450</text>
</g>
</svg>
</body></html>
